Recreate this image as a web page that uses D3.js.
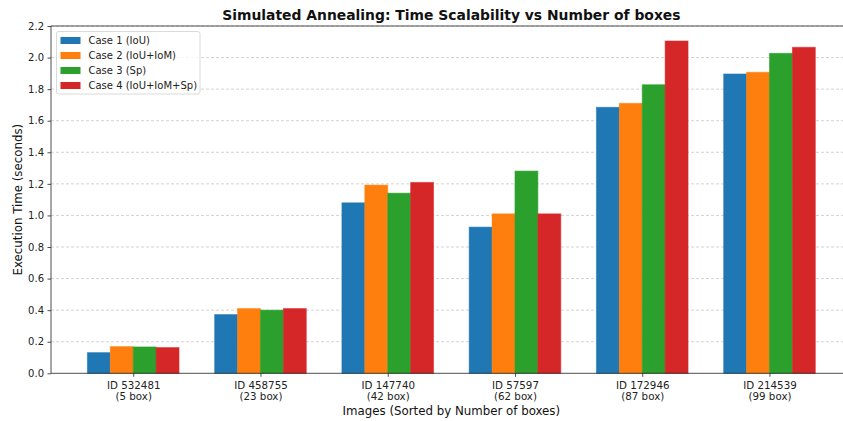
<!DOCTYPE html>
<html>
<head>
<meta charset="utf-8">
<script src="https://cdn.jsdelivr.net/npm/d3@7"></script>
<style>
  html, body { margin: 0; padding: 0; background: #fff; }
  svg { display: block; font-family: "DejaVu Sans", sans-serif; }
</style>
</head>
<body>
<svg id="chart" width="843" height="421"></svg>
<script>
// Images, sorted by number of boxes
const imageIds = ["ID 532481", "ID 458755", "ID 147740", "ID 57597", "ID 172946", "ID 214539"];
const boxCounts = ["(5 box)", "(23 box)", "(42 box)", "(62 box)", "(87 box)", "(99 box)"];

// Execution time (seconds) per case
const caseNames = ["Case 1 (IoU)", "Case 2 (IoU+IoM)", "Case 3 (Sp)", "Case 4 (IoU+IoM+Sp)"];
const case1 = [0.131, 0.372, 1.080, 0.926, 1.685, 1.896];
const case2 = [0.169, 0.410, 1.192, 1.010, 1.710, 1.907];
const case3 = [0.167, 0.400, 1.141, 1.281, 1.828, 2.027];
const case4 = [0.163, 0.410, 1.209, 1.010, 2.105, 2.065];
const caseColors = ["#1f77b4", "#ff7f0e", "#2ca02c", "#d62728"];

const yTicks = [0.0, 0.2, 0.4, 0.6, 0.8, 1.0, 1.2, 1.4, 1.6, 1.8, 2.0, 2.2];

const series = [case1, case2, case3, case4];
const barWidth = 0.18;

const svg = d3.select("#chart");
const plot = { left: 51, right: 851.7, top: 26, bottom: 373.3 };

// Linear x in category units, with 5% margins around the bar span
const span = [-1.5 * barWidth - barWidth / 2, imageIds.length - 1 + 1.5 * barWidth + barWidth / 2];
const pad = (span[1] - span[0]) * 0.05;
const x = d3.scaleLinear().domain([span[0] - pad, span[1] + pad]).range([plot.left, plot.right]);
const y = d3.scaleLinear().domain([0, 2.2]).range([plot.bottom, plot.top]);

// Horizontal dashed grid
svg.append("g")
  .selectAll("line")
  .data(yTicks.slice(1))
  .join("line")
  .attr("x1", plot.left).attr("x2", plot.right)
  .attr("y1", d => y(d)).attr("y2", d => y(d))
  .attr("stroke", "#b0b0b0")
  .attr("stroke-opacity", 0.7)
  .attr("stroke-width", 0.8)
  .attr("stroke-dasharray", "3,2");

// Bars
series.forEach((vals, s) => {
  const offset = (s - 1.5) * barWidth;
  svg.append("g")
    .selectAll("rect")
    .data(vals)
    .join("rect")
    .attr("x", (d, i) => x(i + offset - barWidth / 2))
    .attr("width", (d, i) => x(i + offset + barWidth / 2) - x(i + offset - barWidth / 2))
    .attr("y", d => y(d))
    .attr("height", d => y(0) - y(d))
    .attr("fill", caseColors[s])
    .attr("stroke", caseColors[s])
    .attr("stroke-opacity", 0.55)
    .attr("stroke-width", 1);
});

// Y axis
const yAxis = d3.axisLeft(y).tickValues(yTicks).tickFormat(d3.format(".1f")).tickSize(3.5).tickPadding(3.5);
const gy = svg.append("g").attr("transform", `translate(${plot.left},0)`).call(yAxis);
gy.select(".domain").remove();
gy.selectAll("text").attr("font-size", 10).attr("fill", "#222").attr("font-family", "DejaVu Sans");
gy.selectAll("line").attr("stroke", "#222").attr("stroke-width", 0.8);

// X axis with two-line labels
const xAxis = d3.axisBottom(x).tickValues(d3.range(imageIds.length)).tickSize(3.5).tickFormat("");
const gx = svg.append("g").attr("transform", `translate(0,${plot.bottom})`).call(xAxis);
gx.select(".domain").remove();
gx.selectAll("line").attr("stroke", "#222").attr("stroke-width", 0.8);
gx.selectAll(".tick").each(function(d) {
  const t = d3.select(this).append("text")
    .attr("fill", "#222").attr("font-size", 10.3).attr("text-anchor", "middle")
    .attr("font-family", "DejaVu Sans");
  t.append("tspan").attr("x", 0).attr("y", 15.5).text(imageIds[d]);
  t.append("tspan").attr("x", 0).attr("y", 26.5).text(boxCounts[d]);
});

// Spines
const spine = svg.append("g").attr("stroke", "#222").attr("stroke-width", 0.8).attr("fill", "none");
spine.append("line").attr("x1", plot.left).attr("x2", plot.left).attr("y1", plot.top).attr("y2", plot.bottom);
spine.append("line").attr("x1", plot.left).attr("x2", plot.right).attr("y1", plot.bottom).attr("y2", plot.bottom);
spine.append("line").attr("x1", plot.left).attr("x2", plot.right).attr("y1", plot.top).attr("y2", plot.top);
spine.append("line").attr("x1", plot.right).attr("x2", plot.right).attr("y1", plot.top).attr("y2", plot.bottom);

// Title and axis labels
svg.append("text")
  .attr("x", (plot.left + plot.right) / 2).attr("y", 20)
  .attr("text-anchor", "middle").attr("font-size", 13.9).attr("font-weight", "bold")
  .attr("fill", "#111")
  .text("Simulated Annealing: Time Scalability vs Number of boxes");

svg.append("text")
  .attr("x", (plot.left + plot.right) / 2).attr("y", 415)
  .attr("text-anchor", "middle").attr("font-size", 11.8).attr("fill", "#111")
  .text("Images (Sorted by Number of boxes)");

svg.append("text")
  .attr("transform", `translate(22,${(plot.top + plot.bottom) / 2}) rotate(-90)`)
  .attr("text-anchor", "middle").attr("font-size", 11.8).attr("fill", "#111")
  .text("Execution Time (seconds)");

// Legend
const legend = svg.append("g").attr("transform", "translate(56.5,31.5)");
legend.append("rect")
  .attr("width", 143.5).attr("height", 62.5).attr("rx", 2)
  .attr("fill", "#fff").attr("fill-opacity", 0.8)
  .attr("stroke", "#d0d0d0").attr("stroke-width", 0.8);
caseNames.forEach((name, i) => {
  const row = legend.append("g").attr("transform", `translate(0,${8.5 + i * 15})`);
  row.append("rect").attr("x", 4).attr("y", -3).attr("width", 20).attr("height", 7)
    .attr("fill", caseColors[i]);
  row.append("text").attr("x", 32).attr("y", 4).attr("font-size", 10).attr("fill", "#222")
    .text(name);
});
</script>
</body>
</html>
